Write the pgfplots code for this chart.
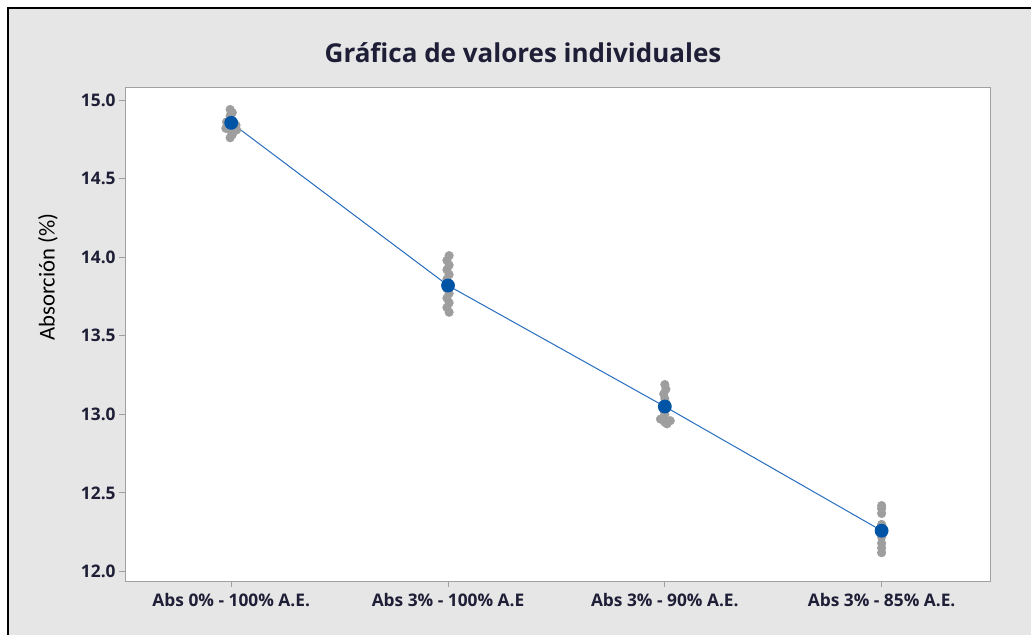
\documentclass[border=0pt]{standalone}
\usepackage{pgfplots}
\pgfplotsset{compat=1.18}
\usepackage{fontspec}
\setmainfont{Open Sans}
\newfontfamily\carlito{Carlito}
\definecolor{bggray}{RGB}{230,230,230}
\definecolor{axgray}{RGB}{160,160,160}
\definecolor{ptgray}{RGB}{158,158,158}
\definecolor{meanblue}{RGB}{0,84,166}
\definecolor{lineblue}{RGB}{40,110,190}
\definecolor{txt}{RGB}{30,30,55}

\pgfplotstableread{
x y
-0.005 14.94
0.005 14.92
-0.005 14.90
-0.022 14.86
0.022 14.84
-0.025 14.82
0.025 14.81
0.000 14.80
0.005 14.78
-0.005 14.76
}\gA
\pgfplotstableread{
x y
1.005 14.01
0.995 13.98
1.005 13.95
0.995 13.92
1.005 13.89
0.995 13.86
1.005 13.83
0.995 13.80
1.005 13.77
0.995 13.74
1.005 13.71
0.995 13.68
1.005 13.65
}\gB
\pgfplotstableread{
x y
2.000 13.19
2.005 13.16
1.995 13.13
2.000 13.10
2.005 13.07
1.995 13.03
2.000 13.00
1.980 12.97
2.025 12.96
2.000 12.95
2.010 12.94
}\gC
\pgfplotstableread{
x y
3.000 12.42
3.000 12.40
3.000 12.37
3.000 12.30
3.005 12.24
2.995 12.25
3.000 12.22
3.000 12.18
3.000 12.15
3.000 12.12
}\gD
\pgfplotstableread{
x y
0 14.855
1 13.82
2 13.05
3 12.26
}\means

\begin{document}
\begin{tikzpicture}
\useasboundingbox (0,0) rectangle (773.25pt,477.75pt);
\fill[bggray] (6pt,1.5pt) rectangle (773.25pt,471.75pt);
\draw[black, line width=1.5pt] (6pt,1.5pt) -- (6pt,471.75pt) -- (773.25pt,471.75pt);
\node[font=\fontsize{19.5}{23}\selectfont\bfseries, text=txt] at (392.25pt,438pt) {Gráfica de valores individuales};
\node[font=\carlito\fontsize{17}{20}\selectfont, rotate=90, text=black] at (36pt,270pt) {Absorción (\%)};
\begin{axis}[
  at={(93.75pt,42pt)}, anchor=south west,
  scale only axis, width=648.75pt, height=370.5pt,
  xmin=-0.49, xmax=3.5, ymin=11.94, ymax=15.083,
  axis background/.style={fill=white},
  axis line style={axgray, line width=0.75pt},
  xtick={0,1,2,3},
  xticklabels={Abs 0\% - 100\% A.E., Abs 3\% - 100\% A.E, Abs 3\% - 90\% A.E., Abs 3\% - 85\% A.E.},
  ytick={12,12.5,13,13.5,14,14.5,15},
  yticklabel style={/pgf/number format/fixed, /pgf/number format/fixed zerofill, /pgf/number format/precision=1, xshift=1pt},
  /pgf/number format/assume math mode=true,
  tick align=outside, tick pos=left, major tick length=4.5pt,
  tick style={axgray, line width=0.75pt},
  ticklabel style={font=\fontsize{13}{15}\selectfont\bfseries, text=txt},
  xticklabel style={yshift=-1pt},
  clip=false,
]
\addplot[only marks, mark=*, mark size=3.2pt, draw=ptgray, fill=ptgray] table[x=x,y=y] {\gA};
\addplot[only marks, mark=*, mark size=3.2pt, draw=ptgray, fill=ptgray] table[x=x,y=y] {\gB};
\addplot[only marks, mark=*, mark size=3.2pt, draw=ptgray, fill=ptgray] table[x=x,y=y] {\gC};
\addplot[only marks, mark=*, mark size=3.2pt, draw=ptgray, fill=ptgray] table[x=x,y=y] {\gD};
\addplot[lineblue, line width=0.75pt, mark=*, mark size=4.8pt, mark options={draw=meanblue, fill=meanblue}] table[x=x,y=y] {\means};
\end{axis}
\end{tikzpicture}
\end{document}
